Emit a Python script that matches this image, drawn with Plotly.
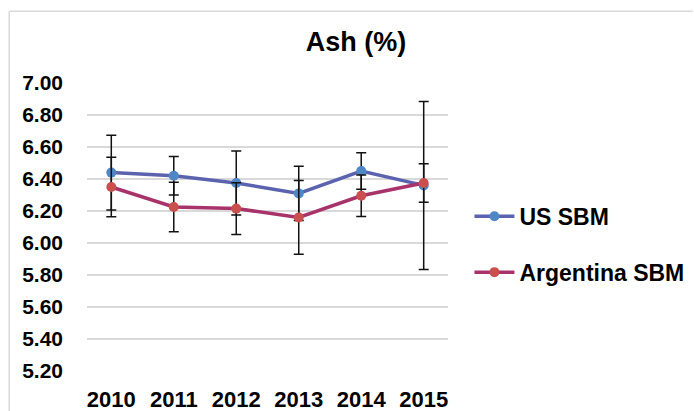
import plotly.graph_objects as go

years = ["2010", "2011", "2012", "2013", "2014", "2015"]
us_sbm = [6.44, 6.42, 6.375, 6.31, 6.45, 6.36]
us_err = [0.234, 0.12, 0.20, 0.17, 0.114, 0.525]
arg_sbm = [6.35, 6.225, 6.215, 6.16, 6.295, 6.375]
arg_err = [0.186, 0.155, 0.162, 0.23, 0.13, 0.12]
y_ticks = [5.2, 5.4, 5.6, 5.8, 6.0, 6.2, 6.4, 6.6, 6.8, 7.0]

W, H = 694, 411
L, R, T, B = 86.5, 448.5, 82.7, 370.7
FONT = "Arial, Liberation Sans, sans-serif"

fig = go.Figure()
fig.add_trace(go.Scatter(
    x=years, y=us_sbm, name="<b>US SBM</b>", mode="lines+markers",
    legendgroup="us",
    line=dict(color="#5B63AE", width=3.5),
    marker=dict(color="#4F86C6", size=10),
    error_y=dict(type="data", array=us_err, visible=True, color="#111111", thickness=1.5, width=5),
))
fig.add_trace(go.Scatter(
    x=years, y=arg_sbm, name="<b>Argentina SBM</b>", mode="lines+markers",
    legendgroup="arg",
    line=dict(color="#A8326A", width=3.5),
    marker=dict(color="#C9504F", size=10),
    error_y=dict(type="data", array=arg_err, visible=True, color="#111111", thickness=1.5, width=5),
))

pw = R - L
ph = B - T
shapes = [
    dict(type="line", xref="paper", yref="paper",
         x0=(8.5 - L) / pw, x1=(W - L) / pw, y0=1 + (T - 11) / ph, y1=1 + (T - 11) / ph,
         line=dict(color="#D9D9D9", width=1.5)),
    dict(type="line", xref="paper", yref="paper",
         x0=(8.5 - L) / pw, x1=(8.5 - L) / pw, y0=1 + (T - 11) / ph, y1=-(H - B) / ph,
         line=dict(color="#D9D9D9", width=1.5)),
]

fig.update_layout(
    template="none",
    width=W, height=H,
    margin=dict(l=L, r=W - R, t=T, b=H - B, pad=0, autoexpand=False),
    paper_bgcolor="white", plot_bgcolor="white",
    font=dict(family=FONT, color="black"),
    title=dict(text="<b>Ash (%)</b>", font=dict(size=27, family=FONT, color="black"),
               xref="container", yref="container", x=356 / W, y=1 - 42 / H,
               xanchor="center", yanchor="middle"),
    xaxis=dict(type="category", showgrid=False, zeroline=False, showline=False,
               automargin=False,
               ticks="", tickfont=dict(size=22, family=FONT, color="black"),
               tickprefix="<b>", ticksuffix="</b>", ticklabelstandoff=13),
    yaxis=dict(range=[5.2, 7.0], tickvals=y_ticks,
               ticktext=[f"<b>{v:.2f}</b>" for v in y_ticks],
               automargin=False,
               showgrid=True, gridcolor="#D9D9D9", gridwidth=1.5,
               zeroline=False, showline=False, ticks="",
               tickfont=dict(size=21, family=FONT, color="black"),
               ticklabelstandoff=23),
    legend=dict(x=(470 - L) / pw, xanchor="left", y=1 - (244 - T) / ph, yanchor="middle",
                xref="paper", yref="paper",
                font=dict(size=23, family=FONT, color="black"),
                traceorder="grouped", tracegroupgap=23, itemwidth=40,
                bgcolor="rgba(0,0,0,0)"),
    shapes=shapes,
    showlegend=True,
    hovermode=False,
)

fig.write_html("out.html",
               config={"displayModeBar": False, "staticPlot": True},
               post_script="document.body.style.margin='0';document.body.style.overflow='hidden';")
